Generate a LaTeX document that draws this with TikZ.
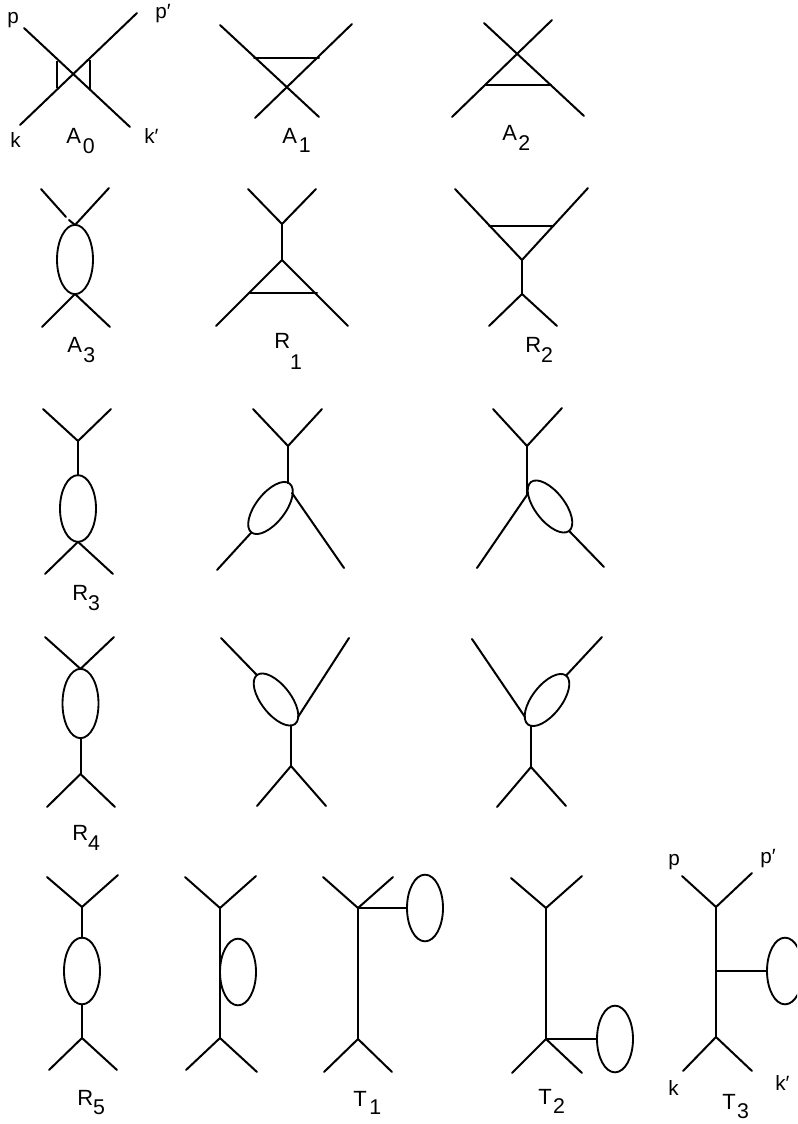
\documentclass[tikz,border=0pt]{standalone}
\usepackage{fontspec}
\setmainfont{Liberation Sans}
\usetikzlibrary{shapes.geometric}
\tikzset{
  fl/.style={line width=1.5pt,line cap=round,line join=round},
  thin bar/.style={line width=1.2pt},
  bubble/.style={ellipse,draw,line width=1.4pt,inner sep=0pt,outer sep=0pt,minimum width=27pt,minimum height=50pt},
  tilted/.style={ellipse,draw,line width=1.4pt,inner sep=0pt,outer sep=0pt,minimum width=46.5pt,minimum height=22pt},
  lab/.style={anchor=base west,inner sep=0pt,font=\fontsize{16.5}{16.5}\selectfont},
  ext/.style={anchor=base west,inner sep=0pt,font=\fontsize{15.5}{15.5}\selectfont},
}
\newcommand{\sbs}[3]{\kern#1pt\raisebox{-#2pt}{\fontsize{16}{16}\selectfont #3}}
\begin{document}
\begin{tikzpicture}[x=0.75pt,y=-0.75pt]
\path[use as bounding box,clip] (0,0) rectangle (797,1124);
\fill[white] (0,0) rectangle (797,1124);
% ---------- A0
\coordinate (a0p) at (24,28); \coordinate (a0kk) at (130,127);
\coordinate (a0k) at (20,125); \coordinate (a0pp) at (137,13);
\coordinate (a0l1) at (57,61); \coordinate (a0l2) at (57,88);
\coordinate (a0r1) at (90,60); \coordinate (a0r2) at (90,89);
\draw[fl] (a0p)--(a0kk); \draw[fl] (a0k)--(a0pp);
\draw[thin bar] (a0l1)--(a0l2); \draw[thin bar] (a0r1)--(a0r2);
\node[ext] (t-p) at (7,24) {p};
\node[ext] (t-pp) at (155,19) {p′};
\node[ext] (t-k) at (10,147) {k};
\node[ext] (t-kk) at (144,143) {k′};
\node[lab] (t-a0) at (66,143) {A\sbs{1.5}{7.5}{0}};
% ---------- A1
\coordinate (a1a) at (220,25); \coordinate (a1b) at (319,117);
\coordinate (a1c) at (352,24); \coordinate (a1d) at (255,118);
\coordinate (a1l) at (254,58); \coordinate (a1r) at (319,58);
\draw[fl] (a1a)--(a1b); \draw[fl] (a1c)--(a1d); \draw[fl] (a1l)--(a1r);
\node[lab] (t-a1) at (282,143) {A\sbs{1.5}{7}{1}};
% ---------- A2
\coordinate (a2a) at (484,23); \coordinate (a2b) at (584,116);
\coordinate (a2c) at (552,20); \coordinate (a2d) at (452,117);
\coordinate (a2l) at (486,85); \coordinate (a2r) at (551,85);
\draw[fl] (a2a)--(a2b); \draw[fl] (a2c)--(a2d); \draw[fl] (a2l)--(a2r);
\node[lab] (t-a2) at (502,140) {A\sbs{1}{7.5}{2}};
% ---------- A3
\coordinate (a3a) at (41,189); \coordinate (a3g1) at (66,217); \coordinate (a3g2) at (69,220);
\coordinate (a3t) at (75,225); \coordinate (a3b) at (109,188);
\coordinate (a3u) at (75,294); \coordinate (a3c) at (42,327); \coordinate (a3d) at (110,327);
\node[bubble,minimum height=52pt] (a3e) at (75,259.5) {};
\draw[fl] (a3a)--(a3g1); \draw[fl] (a3g2)--(a3t); \draw[fl] (a3b)--(a3t);
\draw[fl] (a3c)--(a3u); \draw[fl] (a3d)--(a3u);
\node[lab] (t-a3) at (67,352) {A\sbs{1}{8}{3}};
% ---------- R1
\coordinate (r1a) at (248,189); \coordinate (r1b) at (316,189); \coordinate (r1j) at (282,224);
\coordinate (r1v) at (282,260); \coordinate (r1c) at (216,326); \coordinate (r1d) at (348,326);
\coordinate (r1l) at (250,293); \coordinate (r1r) at (317,293);
\draw[fl] (r1a)--(r1j); \draw[fl] (r1b)--(r1j); \draw[fl] (r1j)--(r1v);
\draw[fl] (r1c)--(r1v); \draw[fl] (r1d)--(r1v); \draw[fl] (r1l)--(r1r);
\node[lab] (t-r1) at (274,348) {R\sbs{0}{16}{1}};
% ---------- R2
\coordinate (r2a) at (455,189); \coordinate (r2b) at (588,188); \coordinate (r2j) at (522,260);
\coordinate (r2v) at (522,294); \coordinate (r2c) at (489,326); \coordinate (r2d) at (557,326);
\coordinate (r2l) at (489,226); \coordinate (r2r) at (553,226);
\draw[fl] (r2a)--(r2j); \draw[fl] (r2b)--(r2j); \draw[fl] (r2j)--(r2v);
\draw[fl] (r2c)--(r2v); \draw[fl] (r2d)--(r2v); \draw[fl] (r2l)--(r2r);
\node[lab] (t-r2) at (525,352) {R\sbs{0}{7.5}{2}};
% ---------- R3
\coordinate (r3a) at (43,409); \coordinate (r3b) at (111,409); \coordinate (r3j) at (78,441);
\coordinate (r3c) at (45,574); \coordinate (r3d) at (113,574);
\node[bubble] (r3e) at (78,508.5) {};
\draw[fl] (r3a)--(r3j); \draw[fl] (r3b)--(r3j); \draw[fl] (r3j)--(r3e.north);
\draw[fl] (r3c)--(r3e.south); \draw[fl] (r3d)--(r3e.south);
\node[lab] (t-r3) at (72,600) {R\sbs{0}{7.5}{3}};
% ---------- row 3 middle
\coordinate (ma) at (253,409); \coordinate (mb) at (322,409); \coordinate (mj) at (288,446);
\coordinate (mv) at (288,483); \coordinate (mc) at (217,570); \coordinate (md) at (344,568);
\coordinate (ms) at (292,493);
\node[tilted,rotate=52] (me) at (270.5,508) {};
\draw[fl] (ma)--(mj); \draw[fl] (mb)--(mj); \draw[fl] (mj)--(mv);
\draw[fl] (mc)--(me.west); \draw[fl] (ms)--(md);
% ---------- row 3 right
\coordinate (na) at (493,409); \coordinate (nb) at (562,408); \coordinate (nj) at (527,446);
\coordinate (nv) at (527,482); \coordinate (ns) at (527,495); \coordinate (nc) at (477,568); \coordinate (nd) at (604,567);
\node[tilted,rotate=-52] (ne) at (550,506.5) {};
\draw[fl] (na)--(nj); \draw[fl] (nb)--(nj); \draw[fl] (nj)--(ns);
\draw[fl] (nc)--(ns); \draw[fl] (nd)--(ne.east);
% ---------- R4
\coordinate (r4a) at (45,637); \coordinate (r4b) at (114,637); \coordinate (r4v) at (80.5,774);
\coordinate (r4c) at (47,807); \coordinate (r4d) at (115,807);
\node[bubble,minimum height=52pt] (r4e) at (80.5,703.5) {};
\draw[fl] (r4a)--(r4e.north); \draw[fl] (r4b)--(r4e.north); \draw[fl] (r4e.south)--(r4v);
\draw[fl] (r4c)--(r4v); \draw[fl] (r4d)--(r4v);
\node[lab] (t-r4) at (72,840) {R\sbs{0}{7.5}{4}};
% ---------- row 4 middle
\coordinate (oa) at (221,638); \coordinate (ob) at (349,638); \coordinate (os) at (298,717);
\coordinate (oj) at (291,726); \coordinate (ov) at (291,766); \coordinate (oc) at (257,806); \coordinate (od) at (326,806);
\node[tilted,rotate=-52] (oe) at (276,699.5) {};
\draw[fl] (oa)--(oe.west); \draw[fl] (ob)--(os); \draw[fl] (oj)--(ov);
\draw[fl] (oc)--(ov); \draw[fl] (od)--(ov);
% ---------- row 4 right
\coordinate (qa) at (472,639); \coordinate (qb) at (602,637); \coordinate (qs) at (525,717);
\coordinate (qj) at (531,726); \coordinate (qv) at (531,767); \coordinate (qc) at (497,807); \coordinate (qd) at (566,806);
\node[tilted,rotate=52] (qe) at (547,700) {};
\draw[fl] (qa)--(qs); \draw[fl] (qb)--(qe.east); \draw[fl] (qj)--(qv);
\draw[fl] (qc)--(qv); \draw[fl] (qd)--(qv);
% ---------- R5
\coordinate (r5a) at (47,877); \coordinate (r5b) at (118,875); \coordinate (r5j) at (82,907);
\coordinate (r5v) at (82,1038); \coordinate (r5c) at (49,1070); \coordinate (r5d) at (117,1070);
\node[bubble] (r5e) at (82,971) {};
\draw[fl] (r5a)--(r5j); \draw[fl] (r5b)--(r5j); \draw[fl] (r5j)--(r5e.north);
\draw[fl] (r5e.south)--(r5v); \draw[fl] (r5c)--(r5v); \draw[fl] (r5d)--(r5v);
\node[lab] (t-r5) at (77,1105) {R\sbs{0}{7}{5}};
% ---------- row 5 second
\coordinate (sa) at (185,877); \coordinate (sb) at (256,876); \coordinate (sj) at (220,908);
\coordinate (sv) at (220,1038); \coordinate (sc) at (186,1070); \coordinate (sd) at (257,1072);
\node[bubble] (se) at (238,972) {};
\draw[fl] (sa)--(sj); \draw[fl] (sb)--(sj); \draw[fl] (sj)--(sv);
\draw[fl] (sc)--(sv); \draw[fl] (sd)--(sv);
% ---------- T1
\coordinate (t1a) at (323,877); \coordinate (t1b) at (393,877); \coordinate (t1j) at (358,908);
\coordinate (t1v) at (358,1039); \coordinate (t1c) at (324,1072); \coordinate (t1d) at (392,1072);
\node[bubble] (t1e) at (425,908) {};
\draw[fl] (t1a)--(t1j); \draw[fl] (t1b)--(t1j); \draw[fl] (t1j)--(t1v);
\draw[fl] (t1c)--(t1v); \draw[fl] (t1d)--(t1v); \draw[fl] (t1j)--(t1e.west);
\node[lab] (t-t1) at (353,1106) {T\sbs{2}{6}{1}};
% ---------- T2
\coordinate (t2a) at (511,878); \coordinate (t2b) at (582,876); \coordinate (t2j) at (546,908);
\coordinate (t2v) at (546,1039); \coordinate (t2c) at (512,1073); \coordinate (t2d) at (582,1073);
\node[bubble] (t2e) at (615,1039) {};
\draw[fl] (t2a)--(t2j); \draw[fl] (t2b)--(t2j); \draw[fl] (t2j)--(t2v);
\draw[fl] (t2c)--(t2v); \draw[fl] (t2d)--(t2v); \draw[fl] (t2v)--(t2e.west);
\node[lab] (t-t2) at (538,1104) {T\sbs{1}{7}{2}};
% ---------- T3
\coordinate (t3a) at (682,876); \coordinate (t3b) at (752,873); \coordinate (t3j) at (716,907);
\coordinate (t3v) at (716,1037); \coordinate (t3c) at (683,1071); \coordinate (t3d) at (752,1071);
\coordinate (t3m) at (716,971);
\node[bubble] (t3e) at (785,971) {};
\draw[fl] (t3a)--(t3j); \draw[fl] (t3b)--(t3j); \draw[fl] (t3j)--(t3v);
\draw[fl] (t3c)--(t3v); \draw[fl] (t3d)--(t3v); \draw[fl] (t3m)--(t3e.west);
\node[ext] (t-p3) at (668,865) {p};
\node[ext] (t-pp3) at (760,863) {p′};
\node[ext] (t-k3) at (668,1095) {k};
\node[ext] (t-kk3) at (775,1090) {k′};
\node[lab] (t-t3) at (722,1109) {T\sbs{1}{7}{3}};
\end{tikzpicture}
\end{document}
